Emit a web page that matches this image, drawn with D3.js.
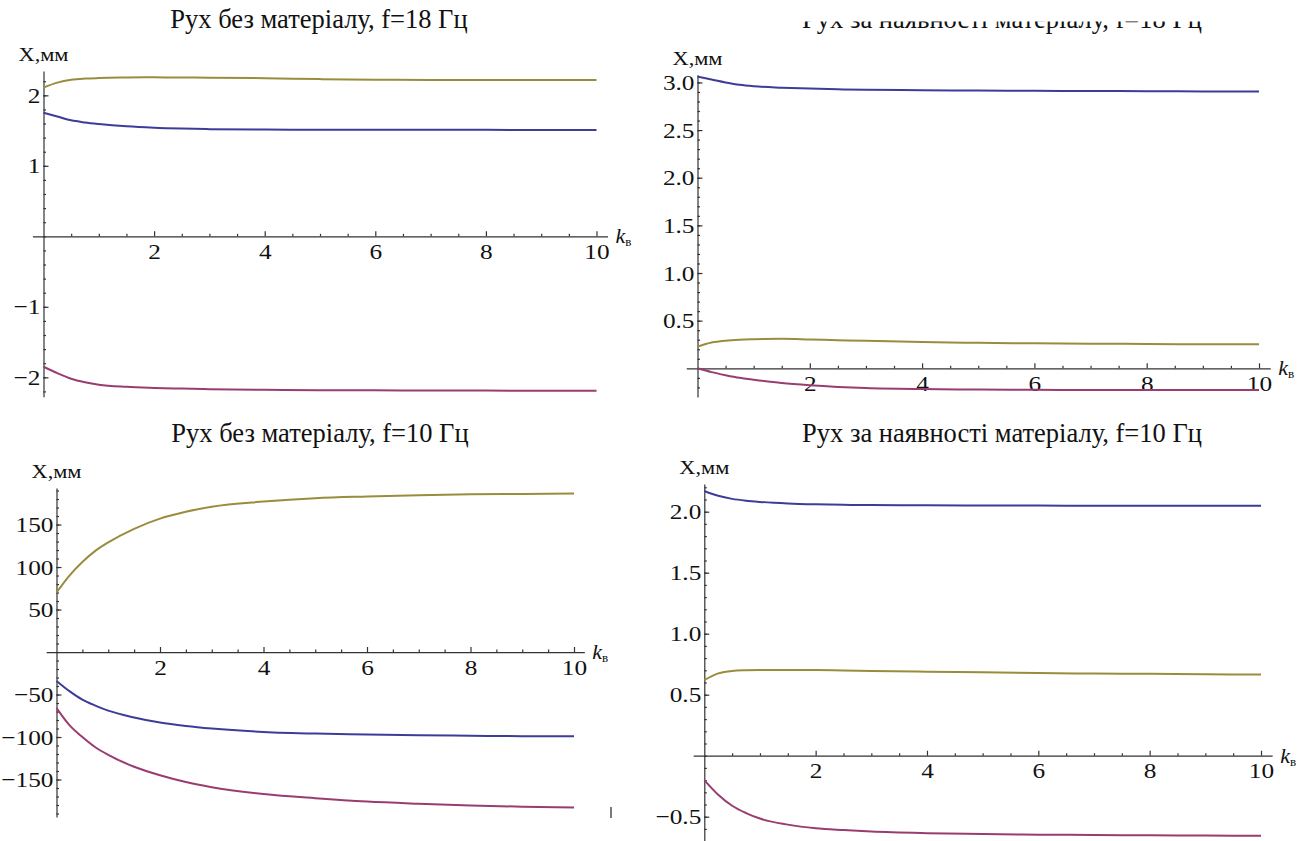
<!DOCTYPE html>
<html>
<head>
<meta charset="utf-8">
<script src="https://cdn.jsdelivr.net/npm/d3@7"></script>
<style>
  body { margin: 0; background: #fff; }
  .domain, .tick line { stroke: #333; stroke-width: 1.2; }
  .curve { fill: none; stroke-width: 2; }
</style>
</head>
<body>
<svg id="chart" width="1308" height="841"></svg>
<script>
// k_в grid shared by every curve
var kValues = [0, 0.25, 0.5, 0.75, 1, 1.5, 2, 2.5, 3, 4, 5, 6, 7, 8, 9, 10];

// f=18 Гц, без матеріалу
var free18Olive  = [2.11, 2.18, 2.22, 2.237, 2.245, 2.252, 2.255, 2.253, 2.25, 2.243, 2.23, 2.222, 2.218, 2.217, 2.217, 2.217];
var free18Blue   = [1.753, 1.70, 1.645, 1.615, 1.593, 1.56, 1.54, 1.528, 1.52, 1.514, 1.512, 1.511, 1.51, 1.51, 1.509, 1.509];
var free18Purple = [-1.85, -1.94, -2.02, -2.07, -2.105, -2.135, -2.15, -2.16, -2.168, -2.177, -2.182, -2.185, -2.187, -2.188, -2.19, -2.19];

// f=18 Гц, за наявності матеріалу
var load18Blue   = [3.06, 3.03, 3.0, 2.975, 2.96, 2.945, 2.935, 2.928, 2.923, 2.918, 2.915, 2.912, 2.91, 2.908, 2.906, 2.905];
var load18Olive  = [0.227, 0.27, 0.29, 0.30, 0.305, 0.31, 0.303, 0.295, 0.288, 0.275, 0.267, 0.262, 0.259, 0.255, 0.253, 0.252];
var load18Purple = [0, -0.04, -0.072, -0.1, -0.12, -0.155, -0.178, -0.195, -0.207, -0.218, -0.223, -0.226, -0.227, -0.228, -0.228, -0.228];

// f=10 Гц, без матеріалу
var free10Olive  = [70, 90, 106, 119, 129, 145, 157, 165, 171, 177, 181, 183, 184.5, 185.5, 186, 186.5];
var free10Blue   = [-34, -46, -56, -63, -69, -77, -83, -87, -90, -94, -96, -97, -98, -98.5, -99, -99];
var free10Purple = [-66, -86, -100, -112, -121, -135, -145, -153, -159, -167, -172, -176, -178.5, -180.5, -182, -183];

// f=10 Гц, за наявності матеріалу
var load10Blue   = [2.17, 2.13, 2.105, 2.09, 2.08, 2.067, 2.06, 2.056, 2.054, 2.052, 2.05, 2.05, 2.049, 2.049, 2.048, 2.048];
var load10Olive  = [0.62, 0.675, 0.695, 0.70, 0.702, 0.703, 0.702, 0.699, 0.695, 0.688, 0.683, 0.677, 0.673, 0.671, 0.668, 0.665];
var load10Purple = [-0.2, -0.32, -0.41, -0.47, -0.515, -0.565, -0.595, -0.61, -0.622, -0.635, -0.642, -0.647, -0.65, -0.653, -0.655, -0.657];

var titles = [
  "Рух без матеріалу, f=18 Гц",
  "Рух за наявності матеріалу, f=18 Гц",
  "Рух без матеріалу, f=10 Гц",
  "Рух за наявності матеріалу, f=10 Гц"
];
var xTicks = [2, 4, 6, 8, 10];
var yTicks1 = [-2, -1, 1, 2];
var yTicks2 = [0.5, 1.0, 1.5, 2.0, 2.5, 3.0];
var yTicks3 = [-150, -100, -50, 50, 100, 150];
var yTicks4 = [-0.5, 0.5, 1.0, 1.5, 2.0];

var blue = "#3d3d99", purple = "#993d71", olive = "#998c3d";
var serif = "'Liberation Serif', 'Times New Roman', serif";

var panels = [
  { title: titles[0], tx: 319, ty: 28, x0: 43.5, x10: 596.5, yDomain: [-2.275, 2.345], yRange: [396.7, 71],
    yTicks: yTicks1, yMinor: 0.2, fmt: d3.format("d"),
    series: [[free18Olive, olive], [free18Blue, blue], [free18Purple, purple]] },
  { title: titles[1], tx: 1002, ty: 28, clip: true, x0: 697.5, x10: 1259, yDomain: [-0.3, 3.08], yRange: [396.9, 74.8],
    yTicks: yTicks2, yMinor: 0.1, fmt: d3.format(".1f"),
    series: [[load18Blue, blue], [load18Olive, olive], [load18Purple, purple]] },
  { title: titles[2], tx: 320, ty: 441.5, x0: 56.5, x10: 574, yDomain: [-194, 193], yRange: [816.9, 488],
    yTicks: yTicks3, yMinor: 10, fmt: d3.format("d"),
    series: [[free10Olive, olive], [free10Blue, blue], [free10Purple, purple]] },
  { title: titles[3], tx: 1002, ty: 441.5, x0: 704.3, x10: 1261, yDomain: [-0.70, 2.227], yRange: [841.1, 484],
    yTicks: yTicks4, yMinor: 0.1, fmt: d3.format(".1f"),
    series: [[load10Blue, blue], [load10Olive, olive], [load10Purple, purple]] }
];

var svg = d3.select("#chart")
  .attr("font-family", serif);

// the top-right title is cut off in the source picture
svg.append("defs").append("clipPath").attr("id", "titleClip")
  .append("rect").attr("x", 640).attr("y", 21.5).attr("width", 668).attr("height", 30);

// tick labels in the source are a little wider than plain Times
function styleLabels(s) {
  s.attr("font-family", serif).attr("font-size", 22);
  s.selectAll("text").attr("fill", "#111").each(function () {
    var w = this.getComputedTextLength();
    d3.select(this).attr("textLength", w * 1.15).attr("lengthAdjust", "spacingAndGlyphs");
  });
}

panels.forEach(function (p) {
  var xBase = d3.scaleLinear().domain([0, 10]).range([p.x0, p.x10]);
  var x = d3.scaleLinear().domain([-0.2, 10.2]).range([xBase(-0.2), xBase(10.2)]);
  var y = d3.scaleLinear().domain(p.yDomain).range(p.yRange);
  var g = svg.append("g");

  // title
  var t = g.append("text")
    .attr("x", p.tx).attr("y", p.ty)
    .attr("text-anchor", "middle")
    .attr("font-size", 26.5)
    .attr("fill", "#111")
    .text(p.title);
  if (p.clip) t.attr("clip-path", "url(#titleClip)");

  // x axis: minor then major ticks, pointing up
  var xMinor = d3.range(0.5, 10.01, 0.5).filter(function (v) { return xTicks.indexOf(v) < 0; });
  g.append("g").attr("transform", "translate(0," + y(0) + ")")
    .call(d3.axisBottom(x).tickValues(xMinor).tickSizeInner(-2.5).tickSizeOuter(0).tickFormat(""))
    .call(function (s) { s.select(".domain").remove(); });
  g.append("g").attr("transform", "translate(0," + y(0) + ")")
    .call(d3.axisBottom(x).tickValues(xTicks).tickSizeInner(-5).tickSizeOuter(0).tickPadding(7).tickFormat(d3.format("d")))
    .call(styleLabels);

  // y axis: ticks pointing right
  var yMinor = d3.range(Math.ceil(p.yDomain[0] / p.yMinor) * p.yMinor, p.yDomain[1], p.yMinor);
  g.append("g").attr("transform", "translate(" + x(0) + ",0)")
    .call(d3.axisLeft(y).tickValues(yMinor).tickSizeInner(-2.5).tickSizeOuter(0).tickFormat(""))
    .call(function (s) { s.select(".domain").remove(); });
  g.append("g").attr("transform", "translate(" + x(0) + ",0)")
    .call(d3.axisLeft(y).tickValues(p.yTicks).tickSizeInner(-5).tickSizeOuter(0).tickPadding(3).tickFormat(p.fmt))
    .call(styleLabels);

  // axis labels
  g.append("text")
    .attr("x", x(0)).attr("y", p.yRange[1] - 10)
    .attr("text-anchor", "middle")
    .attr("font-size", 18)
    .attr("fill", "#111")
    .attr("textLength", 50).attr("lengthAdjust", "spacingAndGlyphs")
    .text("X,мм");
  var kl = g.append("text")
    .attr("x", x(10.2) + 8).attr("y", y(0) + 7)
    .attr("font-size", 22)
    .attr("fill", "#111");
  kl.append("tspan").attr("font-style", "italic").text("k");
  kl.append("tspan").attr("font-size", 13).attr("dy", 3).text("в");

  // curves
  var line = d3.line()
    .x(function (d) { return x(d[0]); })
    .y(function (d) { return y(d[1]); })
    .curve(d3.curveMonotoneX);
  p.series.forEach(function (s) {
    g.append("path")
      .attr("class", "curve")
      .attr("stroke", s[1])
      .attr("d", line(d3.zip(kValues, s[0])));
  });
});

// stray stroke present in the source picture
svg.append("line").attr("x1", 611).attr("x2", 611).attr("y1", 807).attr("y2", 818)
  .attr("stroke", "#222").attr("stroke-width", 1.2);
</script>
</body>
</html>
